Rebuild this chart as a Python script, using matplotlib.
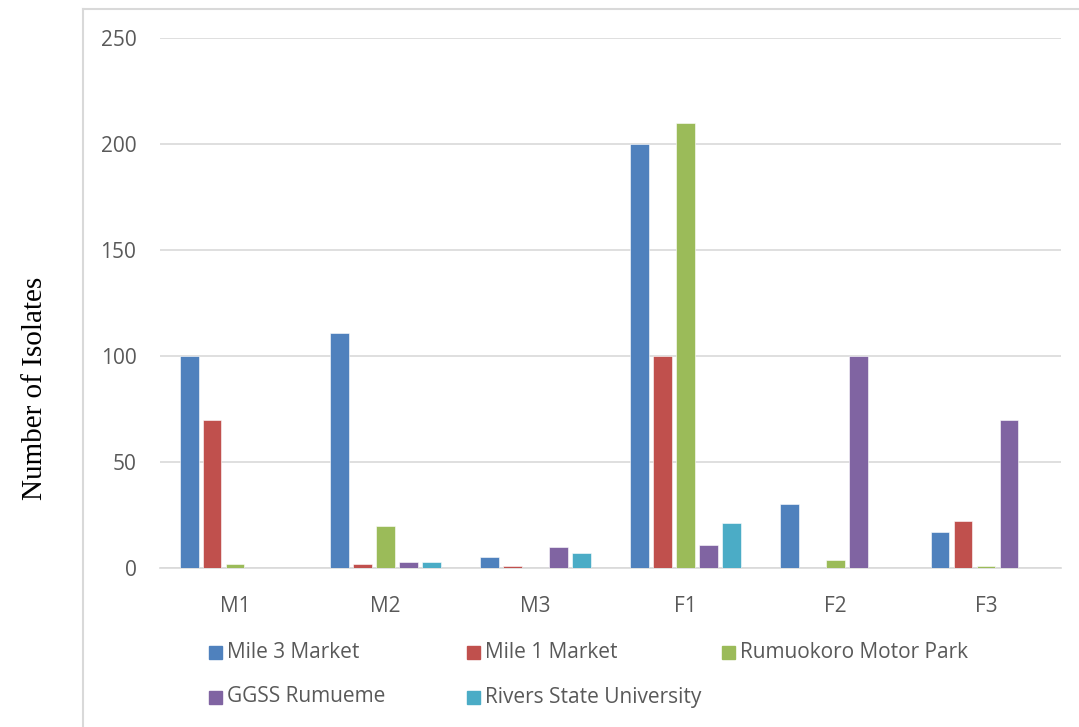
"""Number of isolates per sample type and collection site (grouped bars)."""
import matplotlib.pyplot as plt
import numpy as np
from matplotlib.lines import Line2D
from matplotlib.patches import Rectangle

categories = ["M1", "M2", "M3", "F1", "F2", "F3"]
sites = ["Mile 3 Market", "Mile 1 Market", "Rumuokoro Motor Park",
         "GGSS Rumueme", "Rivers State University"]
mile3 = [100, 111, 5, 200, 30, 17]
mile1 = [70, 2, 1, 100, 0, 22]
rumuokoro = [2, 20, 0, 210, 4, 1]
ggss = [0, 3, 10, 11, 100, 70]
rsu = [0, 3, 7, 21, 0, 0]
colors = ["#4f81bd", "#c0504d", "#9bbb59", "#8064a2", "#4bacc6"]
y_ticks = [0, 50, 100, 150, 200, 250]

W, H = 1079, 727


def main() -> None:
    series = [mile3, mile1, rumuokoro, ggss, rsu]
    fig = plt.figure(figsize=(W / 100, H / 100), dpi=100)
    # chart frame like the Excel chart area
    fig.add_artist(Line2D([83 / W, 83 / W], [0, 1 - 9 / H],
                          transform=fig.transFigure, color="#d9d9d9", lw=1.5))
    fig.add_artist(Line2D([83 / W, 1], [1 - 9 / H, 1 - 9 / H],
                          transform=fig.transFigure, color="#d9d9d9", lw=1.5))
    ax = fig.add_axes([160 / W, 1 - 568 / H, 901 / W, 530 / H])
    x = np.arange(len(categories))
    step = 0.153
    width = 0.125
    for i, (vals, name, col) in enumerate(zip(series, sites, colors)):
        ax.bar(x + (i - 2) * step, vals, width=width, color=col, label=name,
               edgecolor="white", linewidth=0.4, zorder=3)
    ax.set_xlim(-0.5, len(categories) - 0.5)
    ax.set_ylim(0, 250)
    ax.set_yticks(y_ticks)
    ax.set_xticks(x)
    ax.set_xticklabels(categories)
    ax.grid(axis="y", color="#d9d9d9", lw=1.2, zorder=0)
    for side in ["top", "right", "left"]:
        ax.spines[side].set_visible(False)
    ax.spines["bottom"].set_color("#d9d9d9")
    ax.spines["bottom"].set_linewidth(1.2)
    ax.tick_params(length=0, labelsize=15, colors="#595959")
    ax.tick_params(axis="x", pad=20)
    ax.tick_params(axis="y", pad=17)
    for lab in ax.get_xticklabels() + ax.get_yticklabels():
        lab.set_family("Open Sans")
    fig.text(35 / W, 1 - 388 / H, "Number of Isolates", rotation=90,
             ha="center", va="center", fontsize=21, family="Liberation Serif")

    # legend laid out row by row, three slots per row, like the Excel legend
    slot_x = [209, 467, 722]
    row_y = [652, 697]
    for k, (name, col) in enumerate(zip(sites, colors)):
        px = slot_x[k % 3]
        py = row_y[k // 3]
        fig.add_artist(Rectangle((px / W, 1 - (py + 7) / H), 13 / W, 13 / H,
                                 transform=fig.transFigure, color=col))
        fig.text((px + 18) / W, 1 - py / H, name, ha="left", va="center",
                 fontsize=15, family="Open Sans", color="#595959")
    fig.savefig("out.png", dpi=100)
    plt.close(fig)


if __name__ == "__main__":
    main()
